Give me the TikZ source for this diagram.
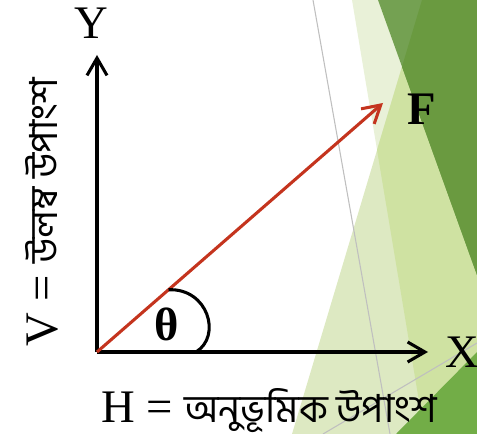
\documentclass[tikz,border=0pt]{standalone}
\usepackage{fontspec}
\setmainfont{Liberation Serif}
\newfontfamily\bangla[Script=Bengali]{Hind Siliguri}
\usetikzlibrary{arrows.meta,calc}
\definecolor{forcered}{RGB}{196,52,30}
\definecolor{facetpale}{HTML}{E9F1D8}
\definecolor{facetlight}{HTML}{DDE9C2}
\definecolor{facetmid}{HTML}{CFE2A2}
\definecolor{facetdarkpale}{HTML}{74A152}
\definecolor{facetdark}{HTML}{6A9A40}
\definecolor{facetbright}{HTML}{72AD47}
\definecolor{facetline}{HTML}{BFBFBF}
\newcommand{\bn}[1]{{\bangla\fontsize{29}{34}\selectfont #1}}
\tikzset{
	axis/.style={line width=2.3pt, -{Straight Barb[length=13pt,width=15pt]}},
	force/.style={forcered, line width=2.3pt, -{Straight Barb[length=13pt,width=15pt]}},
	biglabel/.style={font=\fontsize{35}{40}\selectfont, inner sep=0pt},
}

\begin{document}
\begin{tikzpicture}[x=0.75pt, y=-0.75pt]
	\useasboundingbox (0, 0) rectangle (477, 434);
	% slide facets
	\fill[facetpale] (352, 0) -- (477, 0) -- (477, 434) -- (424.5, 434) -- cycle;
	\fill[facetlight] (422, 0) -- (477, 0) -- (477, 434) -- (292, 434) -- cycle;
	\fill[facetmid] (422, 0) -- (477, 0) -- (477, 434) -- (424.5, 434) -- (377, 150) -- cycle;
	\fill[facetdarkpale] (378, 0) -- (477, 0) -- (477, 275) -- cycle;
	\fill[facetdark] (402, 66.7) -- (422, 0) -- (477, 0) -- (477, 275) -- cycle;
	\fill[facetbright] (396, 434) -- (477, 352) -- (477, 434) -- cycle;
	\draw[facetline, line width=0.8pt] (313, 0) -- (390, 434);
	\draw[facetline, line width=0.8pt] (323, 434) -- (477, 343);

	% axes and force
	\coordinate (O) at (97, 352);
	\coordinate (Yend) at (97, 55);
	\coordinate (Xend) at (428, 352);
	\coordinate (Fend) at (383, 103);
	\draw[axis] (O) -- (Yend);
	\draw[axis] (O) -- (Xend);
	\draw[force] (O) -- (Fend);
	\coordinate (arcA) at ($(O)!0.25!(Fend)$);
	\coordinate (arcB) at (196, 352);
	\draw[line width=2.3pt] (arcA) .. controls (208, 288) and (222, 336) .. (arcB);

	\node[biglabel] (ylab) at (91, 23) {Y};
	\node[biglabel] (xlab) at (462, 352) {X};
	\node[biglabel] (flab) at (422, 109) {\textbf{F}};
	\node[biglabel] (theta) at (167, 324) {\textbf{θ}};
	\node[biglabel, anchor=base west] (hlab) at (101, 422) {H = \bn{অনুভূমিক উপাংশ}};
	\node[biglabel, anchor=base west, rotate=90] (vlab) at (57, 347) {V = \bn{উলম্ব উপাংশ}};
\end{tikzpicture}
\end{document}
